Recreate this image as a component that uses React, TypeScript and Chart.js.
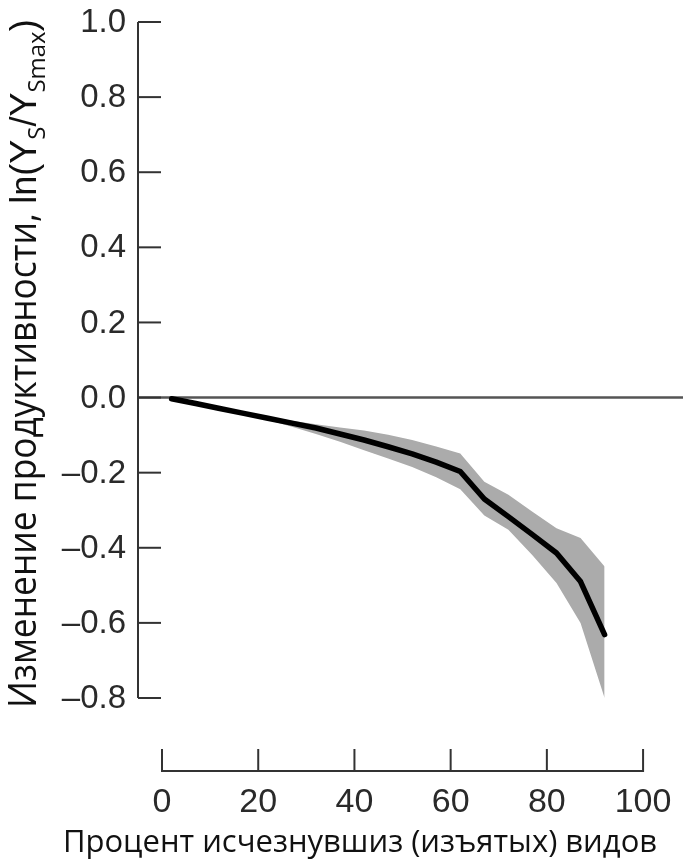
import React, { useEffect, useRef } from "react";
import { Chart, registerables } from "chart.js";

Chart.register(...registerables);

// Percent of species removed
const removedPct = [2, 7, 12, 17, 22, 27, 32, 37, 42, 47, 52, 57, 62, 67, 72, 77, 82, 87, 92];
// Mean ln(Ys/Ysmax)
const meanChange = [-0.003, -0.016, -0.029, -0.042, -0.055, -0.068, -0.081, -0.097, -0.113, -0.131, -0.150, -0.172, -0.197, -0.270, -0.317, -0.365, -0.414, -0.490, -0.631];
// Band upper / lower
const bandUpper = [-0.003, -0.016, -0.029, -0.041, -0.051, -0.062, -0.071, -0.080, -0.088, -0.099, -0.113, -0.130, -0.149, -0.224, -0.259, -0.304, -0.348, -0.374, -0.450];
const bandLower = [-0.003, -0.016, -0.029, -0.044, -0.060, -0.078, -0.097, -0.118, -0.140, -0.162, -0.185, -0.212, -0.244, -0.314, -0.352, -0.420, -0.494, -0.600, -0.800];

const yTicks = [1.0, 0.8, 0.6, 0.4, 0.2, 0.0, -0.2, -0.4, -0.6, -0.8];
const xTicks = [0, 20, 40, 60, 80, 100];

const xTitle = "Процент исчезнувшиз (изъятых) видов";
const yTitleMain = "Изменение продуктивности, ";

const fmtY = (v: number) => (v < 0 ? "\u2013" + Math.abs(v).toFixed(1) : v.toFixed(1));

const axesPlugin = {
  id: "customAxes",
  beforeDatasetsDraw(chart: any) {
    const { ctx, chartArea, scales } = chart;
    const y0 = scales.y.getPixelForValue(0);
    ctx.save();
    ctx.strokeStyle = "#555";
    ctx.lineWidth = 2.5;
    ctx.beginPath();
    ctx.moveTo(chartArea.left, y0);
    ctx.lineTo(chart.width, y0);
    ctx.stroke();
    ctx.restore();
  },
  afterDraw(chart: any) {
    const { ctx, chartArea, scales } = chart;
    const xs = scales.x;
    const ys = scales.y;
    ctx.save();
    ctx.strokeStyle = "#333";
    ctx.fillStyle = "#2a2a2a";
    ctx.lineWidth = 2;
    // y axis
    const ax = chartArea.left + 1;
    ctx.beginPath();
    ctx.moveTo(ax, ys.getPixelForValue(yTicks[0]));
    ctx.lineTo(ax, ys.getPixelForValue(yTicks[yTicks.length - 1]));
    ctx.stroke();
    ctx.font = '33px "Liberation Sans", Arial, sans-serif';
    ctx.textAlign = "right";
    ctx.textBaseline = "middle";
    yTicks.forEach((t) => {
      const py = ys.getPixelForValue(t);
      ctx.beginPath();
      ctx.moveTo(ax, py);
      ctx.lineTo(ax + 23, py);
      ctx.stroke();
      ctx.fillText(fmtY(t), ax - 12, py + 1);
    });
    // x axis
    const xAxisY = chartArea.bottom + 73;
    ctx.beginPath();
    ctx.moveTo(xs.getPixelForValue(xTicks[0]), xAxisY);
    ctx.lineTo(xs.getPixelForValue(xTicks[xTicks.length - 1]), xAxisY);
    ctx.stroke();
    ctx.font = '34px "Liberation Sans", Arial, sans-serif';
    ctx.textAlign = "center";
    ctx.textBaseline = "middle";
    xTicks.forEach((t) => {
      const px = xs.getPixelForValue(t);
      ctx.beginPath();
      ctx.moveTo(px, xAxisY + 1);
      ctx.lineTo(px, xAxisY - 22);
      ctx.stroke();
      ctx.fillText(String(t), px, xAxisY + 32);
    });
    // x title
    ctx.fillStyle = "#111";
    ctx.font = '31px "Open Sans", "Noto Sans", sans-serif';
    ctx.textBaseline = "alphabetic";
    ctx.fillText(xTitle, 360, chartArea.bottom + 154);

    // y title (rotated)
    ctx.save();
    ctx.translate(36, chartArea.bottom + 10);
    ctx.rotate(-Math.PI / 2);
    ctx.textAlign = "left";
    ctx.textBaseline = "alphabetic";
    let cx = 0;
    const seg = (text: string, font: string, dy: number, sx: number) => {
      ctx.font = font;
      ctx.save();
      ctx.translate(cx, 0);
      ctx.scale(sx, 1);
      ctx.fillText(text, 0, dy);
      ctx.restore();
      cx += ctx.measureText(text).width * sx;
    };
    const fMain = '38px "Open Sans", "Noto Sans", sans-serif';
    const fLn = '36px "Liberation Sans", Arial, sans-serif';
    const fSub = '24px "Open Sans", "Noto Sans", sans-serif';
    seg(yTitleMain, fMain, 0, 0.93);
    seg("ln(Y", fLn, 0, 1);
    seg("S", fSub, 9, 1);
    seg("/Y", fLn, 0, 1);
    seg("Smax", fSub, 9, 1);
    seg(")", fLn, 0, 1);
    ctx.restore();
    ctx.restore();
  },
};

export default function App() {
  const ref = useRef<HTMLCanvasElement | null>(null);
  useEffect(() => {
    document.body.style.margin = "0";
    if (!ref.current) return;
    const chart = new Chart(ref.current, {
      type: "line",
      data: {
        datasets: [
          {
            label: "mean",
            data: removedPct.map((x, i) => ({ x, y: meanChange[i] })),
            borderWidth: 5.5,
            borderColor: "#000",
            pointRadius: 0,
            fill: false,
            borderCapStyle: "round",
            borderJoinStyle: "round",
          },
          {
            label: "upper",
            data: removedPct.map((x, i) => ({ x, y: bandUpper[i] })),
            borderWidth: 0,
            pointRadius: 0,
            fill: false,
            borderColor: "rgba(0,0,0,0)",
          },
          {
            label: "lower",
            data: removedPct.map((x, i) => ({ x, y: bandLower[i] })),
            borderWidth: 0,
            pointRadius: 0,
            fill: 1,
            backgroundColor: "#ababab",
            borderColor: "rgba(0,0,0,0)",
          },
        ],
      },
      options: {
        responsive: false,
        animation: false,
        layout: { padding: { left: 137, right: 0, top: 22, bottom: 164 } },
        plugins: { legend: { display: false }, tooltip: { enabled: false } },
        scales: {
          x: { type: "linear", min: -5.2, max: 108.3, display: false },
          y: { type: "linear", min: -0.8, max: 1.0, display: false },
        },
      },
      plugins: [axesPlugin],
    } as any);
    return () => chart.destroy();
  }, []);
  return (
    <div style={{ position: "absolute", left: 0, top: 0, width: 683, height: 862 }}>
      <canvas ref={ref} width={683} height={862} style={{ display: "block" }} />
    </div>
  );
}
